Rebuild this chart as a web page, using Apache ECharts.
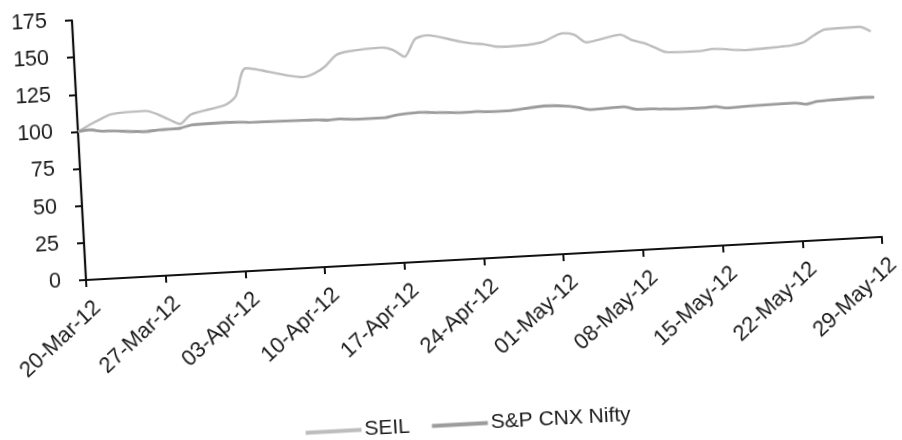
<!DOCTYPE html>
<html>
<head>
<meta charset="utf-8">
<script src="https://cdn.jsdelivr.net/npm/echarts@6/dist/echarts.min.js"></script>
<style>
  html, body { margin: 0; padding: 0; background: #ffffff; overflow: hidden; width: 902px; height: 440px; }
  #wrap { position: absolute; left: 0; top: 0; width: 1000px; height: 520px;
          transform-origin: 86px 280px; transform: rotate(-3.1deg); }
  #chart { width: 1000px; height: 520px; }
</style>
</head>
<body>
<div id="wrap"><div id="chart"></div></div>
<script>
// Trading dates
const dates = [
  '2012-03-20','2012-03-21','2012-03-22','2012-03-23','2012-03-26','2012-03-27','2012-03-28','2012-03-29','2012-03-30',
  '2012-04-02','2012-04-03','2012-04-04','2012-04-09','2012-04-10','2012-04-11','2012-04-12','2012-04-13',
  '2012-04-16','2012-04-17','2012-04-18','2012-04-19','2012-04-20','2012-04-23','2012-04-24','2012-04-25',
  '2012-04-26','2012-04-27','2012-04-30',
  '2012-05-02','2012-05-03','2012-05-04','2012-05-07','2012-05-08','2012-05-09','2012-05-10','2012-05-11',
  '2012-05-14','2012-05-15','2012-05-16','2012-05-17','2012-05-18','2012-05-21','2012-05-22','2012-05-23',
  '2012-05-24','2012-05-25','2012-05-28','2012-05-29'
];
const seil = [
  100, 104, 107.5, 110.5, 111.5, 109, 105, 101.5, 107.5,
  112.5, 118, 136.5, 128.5, 130.5, 135, 142, 144,
  145.5, 143.5, 138.5, 150, 152, 146.5, 145, 144,
  142, 141.5, 143,
  148.5, 147, 141.5, 145.5, 141.5, 139, 135.5, 132,
  131.5, 132.5, 132, 131, 130.5, 131.5, 132, 133.5,
  138, 141.5, 142, 138.5
];
const nifty = [
  100, 100.8, 99.5, 99.2, 97.6, 98.2, 98.3, 98.6, 100.4,
  100.8, 100.6, 100.1, 99.3, 99.2, 98.6, 99.0, 98.4,
  98.2, 99.5, 100.2, 100.6, 100.1, 98.8, 99.0, 98.5,
  98.3, 98.4, 100.3,
  99.3, 98.0, 96.2, 96.8, 94.8, 94.5, 94.2, 93.6,
  93.3, 93.6, 92.3, 92.5, 92.8, 93.1, 93.2, 92.0,
  93.4, 93.8, 94.4, 94.2
];
const tickLabels = ['20-Mar-12','27-Mar-12','03-Apr-12','10-Apr-12','17-Apr-12','24-Apr-12',
                    '01-May-12','08-May-12','15-May-12','22-May-12','29-May-12'];
const yTicks = [0, 25, 50, 75, 100, 125, 150, 175];

const DAY = 86400000;
const t0 = Date.parse(dates[0]);
const dayOf = d => Math.round((Date.parse(d) - t0) / DAY);
const seilData = dates.map((d, i) => [dayOf(d), seil[i]]);
const niftyData = dates.map((d, i) => [dayOf(d), nifty[i]]);

const font = '"Liberation Sans", Arial, sans-serif';
const chart = echarts.init(document.getElementById('chart'), null, { renderer: 'canvas' });
chart.setOption({
  animation: false,
  backgroundColor: '#ffffff',
  grid: { left: 86, top: 20, width: 797, height: 260 },
  legend: {
    left: 292, top: 429,
    icon: 'rect',
    itemWidth: 56, itemHeight: 4, itemGap: 22,
    textStyle: { fontFamily: font, fontSize: 21, color: '#1a1a1a', padding: [0, 0, 0, -2] },
    data: ['SEIL', 'S&P CNX Nifty']
  },
  xAxis: {
    type: 'value', min: 0, max: 70, interval: 7,
    splitLine: { show: false },
    axisLine: { show: true, lineStyle: { color: '#111', width: 2.2 } },
    axisTick: { show: true, length: 7, lineStyle: { color: '#111', width: 2 } },
    axisLabel: {
      rotate: 40, margin: 13, fontFamily: font, fontSize: 22, color: '#1a1a1a',
      verticalAlign: 'top', lineHeight: 32,
      formatter: v => tickLabels[Math.round(v / 7)] || ''
    }
  },
  yAxis: {
    type: 'value', min: yTicks[0], max: yTicks[yTicks.length - 1], interval: 25,
    splitLine: { show: false },
    axisLine: { show: true, lineStyle: { color: '#111', width: 2.2 } },
    axisTick: { show: true, length: 7, lineStyle: { color: '#111', width: 2 } },
    axisLabel: { margin: 25, fontFamily: font, fontSize: 21.5, color: '#1a1a1a' }
  },
  series: [
    {
      name: 'SEIL', type: 'line', data: seilData, symbol: 'none', smooth: 0.25,
      lineStyle: { color: '#bdbdbd', width: 2.4 }, itemStyle: { color: '#bdbdbd' }
    },
    {
      name: 'S&P CNX Nifty', type: 'line', data: niftyData, symbol: 'none', smooth: 0.25,
      lineStyle: { color: '#9c9c9c', width: 2.8 }, itemStyle: { color: '#9c9c9c' }
    }
  ]
});
</script>
</body>
</html>
